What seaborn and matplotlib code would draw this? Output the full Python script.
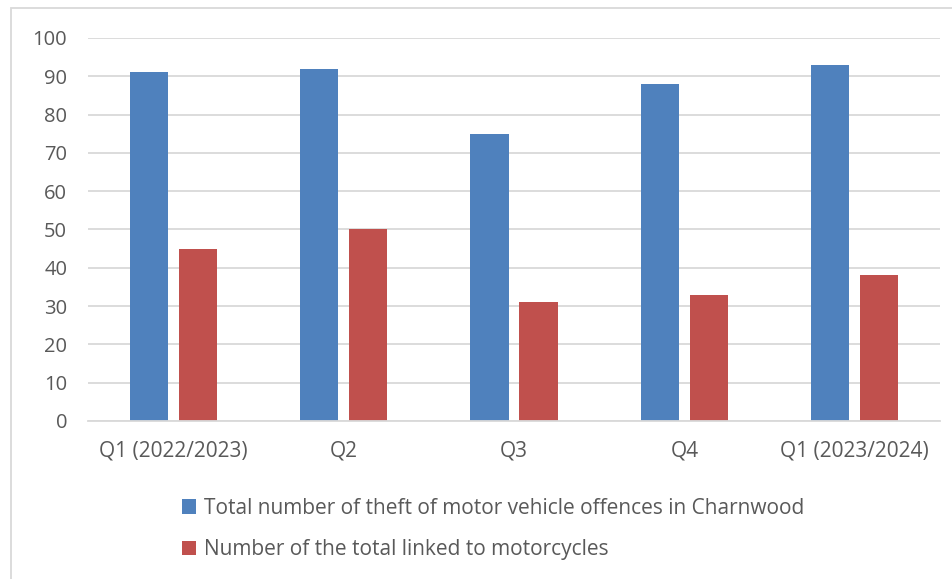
import pandas as pd
import seaborn as sns
import matplotlib.pyplot as plt
from matplotlib.patches import Rectangle

# datos
quarters = ['Q1 (2022/2023)', 'Q2', 'Q3', 'Q4', 'Q1 (2023/2024)']
total_theft = [91, 92, 75, 88, 93]
motorcycles = [45, 50, 31, 33, 38]
series_names = ['Total number of theft of motor vehicle offences in Charnwood',
                'Number of the total linked to motorcycles']

df = pd.DataFrame({'quarter': quarters * 2,
                   'value': total_theft + motorcycles,
                   'series': [series_names[0]] * 5 + [series_names[1]] * 5})

sns.set_style('white')
plt.rcParams['font.family'] = ['Open Sans', 'DejaVu Sans']
txt = '#595959'

fig = plt.figure(figsize=(9.53, 5.79), dpi=100)
ax = fig.add_axes([0.0923, 0.2729, 0.8941, 0.6615])

sns.barplot(data=df, x='quarter', y='value', hue='series',
            palette=['#4f81bd', '#c0504d'], width=0.575, gap=0.224,
            saturation=1, linewidth=0, ax=ax)

ax.set_ylim(0, 100)
ax.set_xlim(-0.5, 4.5)
ax.set_yticks(range(0, 101, 10))
ax.yaxis.grid(True, color='#d9d9d9', linewidth=1.3)
ax.set_axisbelow(True)
for s in ['top', 'right', 'left']:
    ax.spines[s].set_visible(False)
ax.spines['bottom'].set_color('#d9d9d9')
ax.spines['bottom'].set_linewidth(1.3)
ax.tick_params(axis='y', length=0, labelsize=14.5, colors=txt, pad=15)
ax.tick_params(axis='x', length=0, labelsize=15, colors=txt, pad=14)
ax.set_xlabel('')
ax.set_ylabel('')

leg = ax.legend(loc='upper left', bbox_to_anchor=(0.182, 0.155),
                bbox_transform=fig.transFigure, frameon=False,
                fontsize=15, handlelength=0.7, handleheight=0.7,
                handletextpad=0.35, labelspacing=1.0, borderaxespad=0)
for t in leg.get_texts():
    t.set_color(txt)

# borde del grafico
fig.patches.append(Rectangle((11 / 953, -0.01), 1.0, 1 - 8 / 579 + 0.01,
                             transform=fig.transFigure, fill=False,
                             edgecolor='#d9d9d9', linewidth=1.3))

fig.savefig('out.png', dpi=100)
